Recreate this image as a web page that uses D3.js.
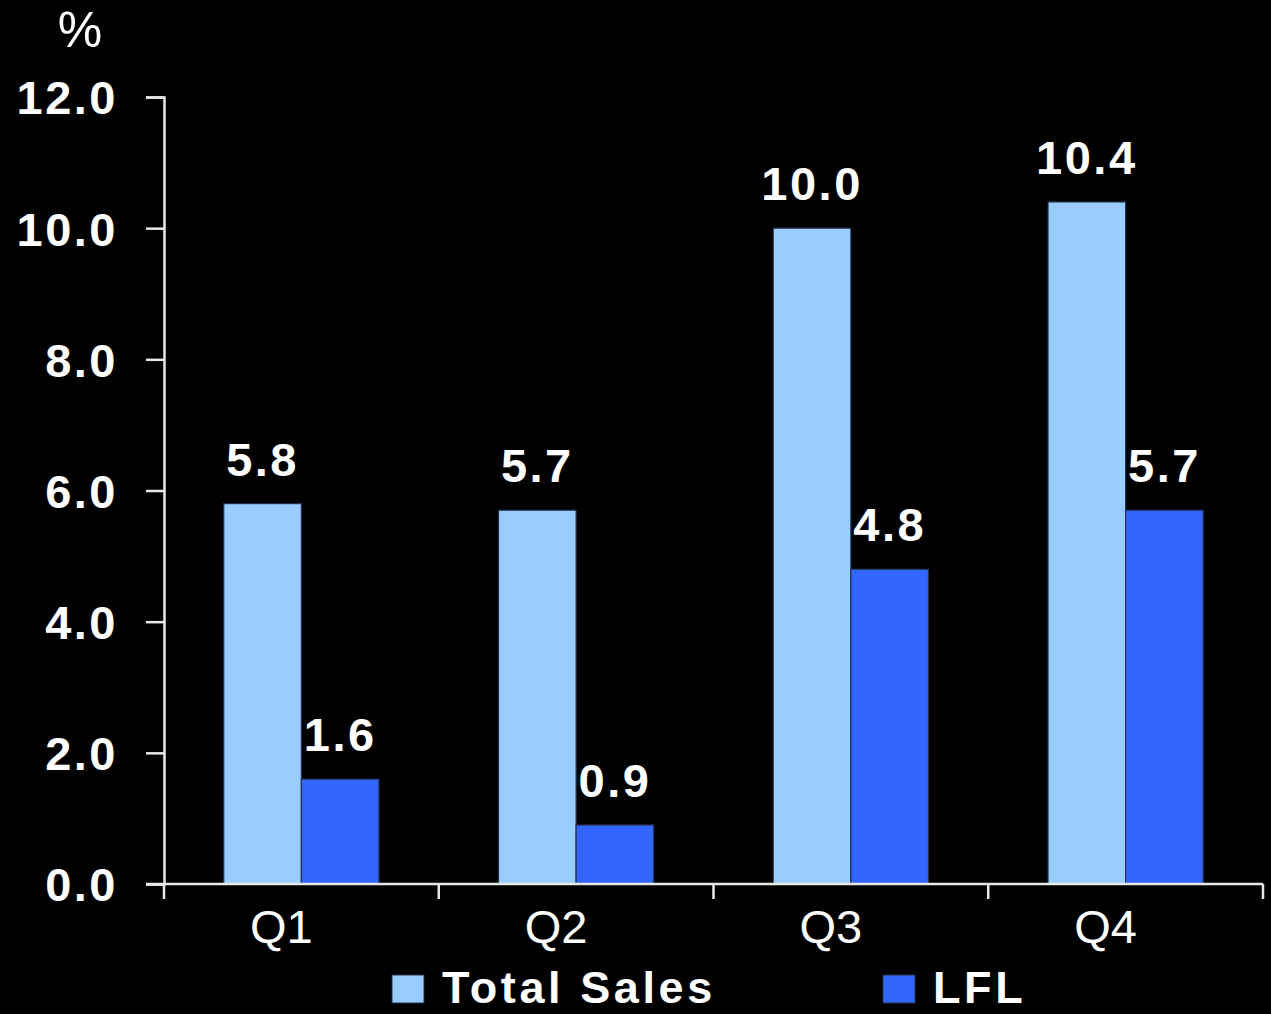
<!DOCTYPE html>
<html>
<head>
<meta charset="utf-8">
<script src="https://cdn.jsdelivr.net/npm/d3@7"></script>
<style>
  html, body { margin: 0; padding: 0; background: #000; }
  svg { display: block; }
  text { font-family: "Liberation Sans", Arial, sans-serif; fill: #fff; }
</style>
</head>
<body>
<div id="chart"></div>
<script>
// chart values
const quarters = ["Q1", "Q2", "Q3", "Q4"];
const seriesNames = ["Total Sales", "LFL"];
const totalSales = [5.8, 5.7, 10.0, 10.4];
const lfl = [1.6, 0.9, 4.8, 5.7];
const yTicks = [0, 2, 4, 6, 8, 10, 12];
const unitLabel = "%";

const colors = { "Total Sales": "#99ccff", "LFL": "#3366ff" };

const width = 1271, height = 1014;
const margin = { top: 97, right: 8, bottom: 130, left: 164 };
const innerW = width - margin.left - margin.right;
const innerH = height - margin.top - margin.bottom;

const data = quarters.map((q, i) => ({
    quarter: q,
    values: [
        { key: "Total Sales", value: totalSales[i] },
        { key: "LFL", value: lfl[i] }
    ]
}));

const svg = d3.select("#chart")
    .append("svg")
    .attr("width", width)
    .attr("height", height);

const g = svg.append("g")
    .attr("transform", `translate(${margin.left}, ${margin.top})`);

const x0 = d3.scaleBand()
    .domain(quarters)
    .range([0, innerW])
    .padding(0);

const x1 = d3.scaleBand()
    .domain(seriesNames)
    .range([0, x0.bandwidth()])
    .paddingInner(0)
    .paddingOuter(0.77);

const y = d3.scaleLinear()
    .domain([0, 12])
    .range([innerH, 0]);

// y axis
const yAxis = g.append("g")
    .attr("class", "axis")
    .call(d3.axisLeft(y).tickValues(yTicks).tickSize(18).tickPadding(28).tickFormat(d3.format(".1f")));
yAxis.select(".domain").attr("stroke", "#e8e8e8").attr("stroke-width", 2.5);
yAxis.selectAll(".tick line").attr("stroke", "#e8e8e8").attr("stroke-width", 2.5);
yAxis.selectAll(".tick text")
    .attr("fill", "#fff")
    .style("font-size", "47px")
    .style("font-weight", "bold")
    .style("letter-spacing", "2.5px")
    .attr("dy", "0.36em");

// bars
const groups = g.append("g")
    .selectAll("g")
    .data(data)
    .enter()
    .append("g")
    .attr("transform", d => `translate(${x0(d.quarter)}, 0)`);

groups.selectAll("rect")
    .data(d => d.values)
    .enter()
    .append("rect")
    .attr("x", d => x1(d.key))
    .attr("y", d => y(d.value))
    .attr("width", x1.bandwidth())
    .attr("height", d => innerH - y(d.value))
    .attr("fill", d => colors[d.key])
    .attr("stroke", "#23324a")
    .attr("stroke-width", 1.2);

groups.selectAll("text.value")
    .data(d => d.values)
    .enter()
    .append("text")
    .attr("class", "value")
    .attr("x", d => x1(d.key) + x1.bandwidth() / 2)
    .attr("y", d => y(d.value) - 28)
    .attr("text-anchor", "middle")
    .style("font-size", "47px")
    .style("font-weight", "bold")
    .style("letter-spacing", "2.5px")
    .text(d => d.value.toFixed(1));

// x axis
const xAxisG = g.append("g").attr("transform", `translate(0, ${innerH})`);
xAxisG.append("line")
    .attr("x1", -18).attr("x2", innerW)
    .attr("y1", 0).attr("y2", 0)
    .attr("stroke", "#e8e8e8").attr("stroke-width", 2.5);
xAxisG.selectAll("line.tick")
    .data(quarters.concat(["end"]))
    .enter()
    .append("line")
    .attr("class", "tick")
    .attr("x1", (d, i) => i * x0.step())
    .attr("x2", (d, i) => i * x0.step())
    .attr("y1", 0).attr("y2", 15)
    .attr("stroke", "#e8e8e8").attr("stroke-width", 2.5);
xAxisG.selectAll("text.cat")
    .data(quarters)
    .enter()
    .append("text")
    .attr("class", "cat")
    .attr("x", d => x0(d) + x0.bandwidth() / 2 - 20)
    .attr("y", 59)
    .attr("text-anchor", "middle")
    .style("font-size", "47px")
    .text(d => d);

// unit label
svg.append("text")
    .attr("x", 80)
    .attr("y", 47)
    .attr("text-anchor", "middle")
    .style("font-size", "50px")
    .text(unitLabel);

// legend
const legendX = [392, 883];
const legend = svg.append("g")
    .selectAll("g")
    .data(seriesNames)
    .enter()
    .append("g")
    .attr("transform", (d, i) => `translate(${legendX[i]}, 975)`);
legend.append("rect")
    .attr("width", 32)
    .attr("height", 28)
    .attr("fill", d => colors[d])
    .attr("stroke", "#23324a")
    .attr("stroke-width", 1);
legend.append("text")
    .attr("x", 50)
    .attr("y", 28)
    .style("font-size", "45px")
    .style("font-weight", "bold")
    .style("letter-spacing", "3.6px")
    .text(d => d);
</script>
</body>
</html>
